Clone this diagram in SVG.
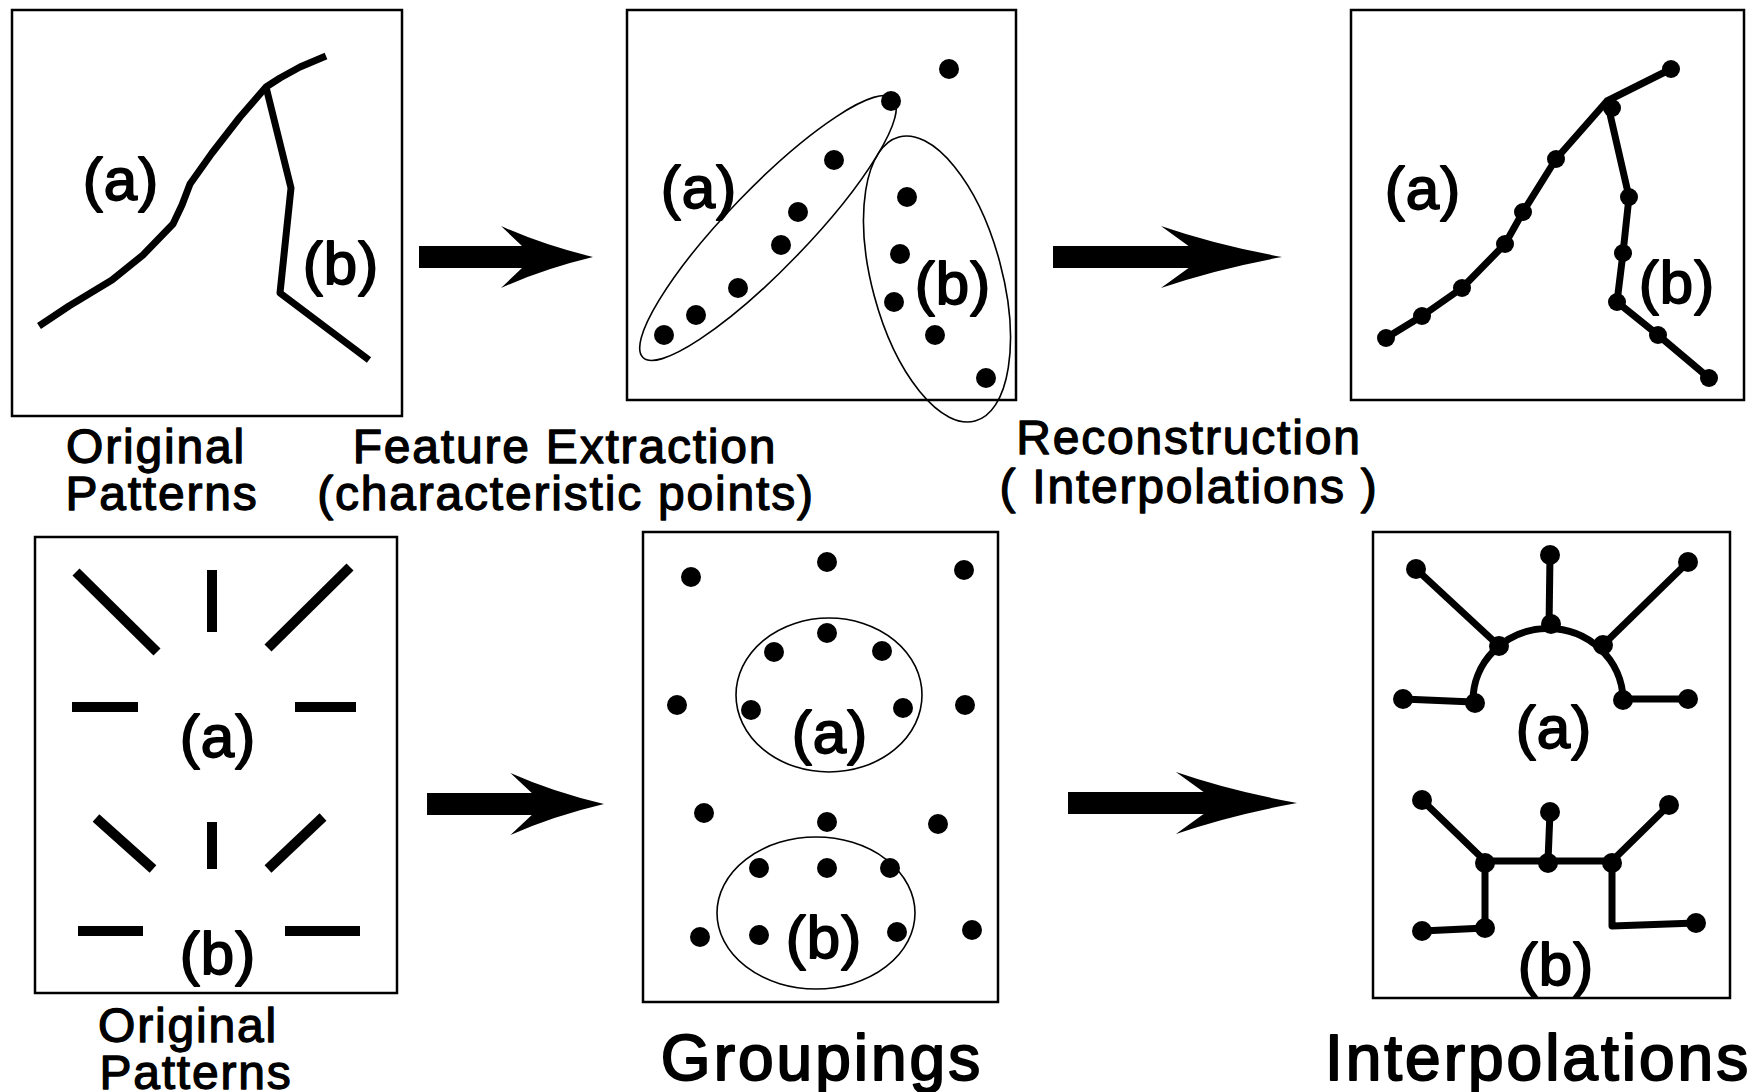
<svg xmlns="http://www.w3.org/2000/svg" width="1753" height="1092" viewBox="0 0 1753 1092">
  <style>
    .frame { fill: none; stroke: #000; stroke-width: 2.5; }
    .stroke { fill: none; stroke: #000; stroke-width: 7; stroke-linejoin: round; }
    .bar { fill: none; stroke: #000; stroke-width: 10; }
    .ring { fill: none; stroke: #000; stroke-width: 1.6; }
    .dot { fill: #000; }
    .arrow { fill: #000; }
    text { font-family: "Liberation Sans", Arial, sans-serif; text-anchor: middle; fill: #000; stroke: #000; stroke-linejoin: round; }
    .tag { font-size: 60px; stroke-width: 1.8; letter-spacing: 1px; }
    .cap { font-size: 48px; stroke-width: 1.3; letter-spacing: 1.8px; }
    .title { font-size: 64px; stroke-width: 2; letter-spacing: 3px; }
  </style>
  <defs>
    <path id="arrowhead" d="M-174,-11 L-71,-11 L-92,-31 Q-50,-12 0,0 Q-50,12 -92,31 L-71,11 L-174,11 Z"/>
  </defs>
  <rect width="1753" height="1092" fill="#fff"/>

  <!-- top row: original curves -->
  <g id="top-original">
    <rect class="frame" x="12" y="10" width="390" height="406"/>
    <polyline class="stroke" points="39,326 69,306 112,280 143,255 173,224 182,205 190,184 212,153 240,117 266,87 280,78 300,67 326,56"/>
    <polyline class="stroke" points="266,87 291,188 280,293 369,360"/>
    <text class="tag" x="121" y="200">(a)</text>
    <text class="tag" x="341" y="284">(b)</text>
  </g>
  <g id="top-original-caption">
    <text class="cap" x="156" y="463">Original</text>
    <text class="cap" x="162" y="510">Patterns</text>
  </g>

  <!-- top row: extracted points -->
  <g id="top-features">
    <rect class="frame" x="627" y="10" width="389" height="390"/>
    <ellipse class="ring" cx="768" cy="228" rx="180" ry="40" transform="rotate(-46 768 228)"/>
    <ellipse class="ring" cx="937" cy="279" rx="65" ry="147" transform="rotate(-15 937 279)"/>
    <g class="dot">
      <circle cx="949" cy="69" r="10"/>
      <circle cx="891" cy="101" r="10"/>
      <circle cx="834" cy="160" r="10"/>
      <circle cx="798" cy="212" r="10"/>
      <circle cx="781" cy="245" r="10"/>
      <circle cx="738" cy="288" r="10"/>
      <circle cx="696" cy="315" r="10"/>
      <circle cx="664" cy="335" r="10"/>
      <circle cx="907" cy="197" r="10"/>
      <circle cx="900" cy="254" r="10"/>
      <circle cx="894" cy="302" r="10"/>
      <circle cx="935" cy="335" r="10"/>
      <circle cx="986" cy="378" r="10"/>
    </g>
    <text class="tag" x="699" y="208">(a)</text>
    <text class="tag" x="953" y="304">(b)</text>
  </g>
  <g id="top-features-caption">
    <text class="cap" x="565" y="463">Feature Extraction</text>
    <text class="cap" x="566" y="510">(characteristic points)</text>
  </g>

  <!-- top row: reconstruction -->
  <g id="top-reconstruction">
    <rect class="frame" x="1351" y="10" width="393" height="390"/>
    <polyline class="stroke" stroke-width="6" points="1386,338 1422,316 1462,288 1505,244 1523,212 1556,159 1607,101 1671,69"/>
    <polyline class="stroke" stroke-width="6" points="1607,101 1629,197 1623,253 1617,302 1658,335 1709,378"/>
    <g class="dot">
      <circle cx="1386" cy="338" r="9"/>
      <circle cx="1422" cy="316" r="9"/>
      <circle cx="1462" cy="288" r="9"/>
      <circle cx="1505" cy="244" r="9"/>
      <circle cx="1523" cy="212" r="9"/>
      <circle cx="1556" cy="159" r="9"/>
      <circle cx="1612" cy="108" r="9"/>
      <circle cx="1671" cy="69" r="9"/>
      <circle cx="1629" cy="197" r="9"/>
      <circle cx="1623" cy="253" r="9"/>
      <circle cx="1617" cy="302" r="9"/>
      <circle cx="1658" cy="335" r="9"/>
      <circle cx="1709" cy="378" r="9"/>
    </g>
    <text class="tag" x="1423" y="209">(a)</text>
    <text class="tag" x="1677" y="303">(b)</text>
  </g>
  <g id="top-reconstruction-caption">
    <text class="cap" x="1189" y="454">Reconstruction</text>
    <text class="cap" x="1189" y="503">( Interpolations )</text>
  </g>

  <!-- bottom row: original segments -->
  <g id="bottom-original">
    <rect class="frame" x="35" y="537" width="362" height="456"/>
    <g class="bar">
      <line x1="76" y1="572" x2="157" y2="652"/>
      <line x1="212" y1="570" x2="212" y2="632"/>
      <line x1="350" y1="567" x2="268" y2="648"/>
      <line x1="72" y1="707" x2="138" y2="707"/>
      <line x1="295" y1="707" x2="356" y2="707"/>
      <line x1="96" y1="818" x2="153" y2="869"/>
      <line x1="212" y1="822" x2="212" y2="869"/>
      <line x1="323" y1="817" x2="268" y2="869"/>
      <line x1="78" y1="931" x2="143" y2="931"/>
      <line x1="285" y1="931" x2="360" y2="931"/>
    </g>
    <text class="tag" x="218" y="757">(a)</text>
    <text class="tag" x="218" y="974">(b)</text>
  </g>
  <g id="bottom-original-caption">
    <text class="cap" x="188" y="1042">Original</text>
    <text class="cap" x="196" y="1089">Patterns</text>
  </g>

  <!-- bottom row: groupings -->
  <g id="bottom-groupings">
    <rect class="frame" x="643" y="532" width="355" height="470"/>
    <ellipse class="ring" cx="829" cy="695" rx="93" ry="77"/>
    <ellipse class="ring" cx="816" cy="913" rx="99" ry="76"/>
    <g class="dot">
      <circle cx="691" cy="577" r="10"/>
      <circle cx="827" cy="562" r="10"/>
      <circle cx="964" cy="570" r="10"/>
      <circle cx="827" cy="633" r="10"/>
      <circle cx="774" cy="652" r="10"/>
      <circle cx="882" cy="651" r="10"/>
      <circle cx="751" cy="710" r="10"/>
      <circle cx="903" cy="708" r="10"/>
      <circle cx="677" cy="705" r="10"/>
      <circle cx="965" cy="705" r="10"/>
      <circle cx="704" cy="813" r="10"/>
      <circle cx="827" cy="822" r="10"/>
      <circle cx="938" cy="824" r="10"/>
      <circle cx="759" cy="868" r="10"/>
      <circle cx="827" cy="868" r="10"/>
      <circle cx="890" cy="868" r="10"/>
      <circle cx="759" cy="935" r="10"/>
      <circle cx="897" cy="932" r="10"/>
      <circle cx="700" cy="937" r="10"/>
      <circle cx="972" cy="930" r="10"/>
    </g>
    <text class="tag" x="830" y="753">(a)</text>
    <text class="tag" x="824" y="958">(b)</text>
  </g>
  <g id="bottom-groupings-caption">
    <text class="title" x="822" y="1080">Groupings</text>
  </g>

  <!-- bottom row: interpolations -->
  <g id="bottom-interpolations">
    <rect class="frame" x="1373" y="532" width="357" height="466"/>
    <path class="stroke" stroke-width="8" d="M1473,702 A75,72 0 0 1 1623,699"/>
    <polyline class="stroke" stroke-width="8" points="1403,699 1473,702"/>
    <polyline class="stroke" stroke-width="8" points="1623,699 1688,699"/>
    <polyline class="stroke" stroke-width="8" points="1416,569 1499,646"/>
    <polyline class="stroke" stroke-width="8" points="1550,555 1549,628"/>
    <polyline class="stroke" stroke-width="8" points="1688,562 1603,645"/>
    <polyline class="stroke" stroke-width="8" points="1422,800 1485,861 1612,861 1669,805"/>
    <polyline class="stroke" stroke-width="8" points="1550,812 1548,861"/>
    <polyline class="stroke" stroke-width="8" points="1422,931 1485,928 1485,861"/>
    <polyline class="stroke" stroke-width="8" points="1696,923 1612,926 1612,861"/>
    <g class="dot">
      <circle cx="1416" cy="569" r="10"/>
      <circle cx="1550" cy="555" r="10"/>
      <circle cx="1688" cy="562" r="10"/>
      <circle cx="1403" cy="699" r="10"/>
      <circle cx="1688" cy="699" r="10"/>
      <circle cx="1475" cy="703" r="10"/>
      <circle cx="1499" cy="646" r="10"/>
      <circle cx="1551" cy="624" r="10"/>
      <circle cx="1603" cy="645" r="10"/>
      <circle cx="1623" cy="700" r="10"/>
      <circle cx="1422" cy="800" r="10"/>
      <circle cx="1550" cy="812" r="10"/>
      <circle cx="1669" cy="805" r="10"/>
      <circle cx="1485" cy="863" r="10"/>
      <circle cx="1548" cy="863" r="10"/>
      <circle cx="1612" cy="863" r="10"/>
      <circle cx="1422" cy="931" r="10"/>
      <circle cx="1485" cy="928" r="10"/>
      <circle cx="1696" cy="923" r="10"/>
    </g>
    <text class="tag" x="1554" y="748">(a)</text>
    <text class="tag" x="1556" y="985">(b)</text>
  </g>
  <g id="bottom-interpolations-caption">
    <text class="title" x="1538" y="1080">Interpolations</text>
  </g>

  <!-- flow arrows between stages -->
  <g id="connectors" class="arrow">
    <use href="#arrowhead" transform="translate(593 257)"/>
    <use href="#arrowhead" transform="translate(1282 257) scale(1.316 1)"/>
    <use href="#arrowhead" transform="translate(604 804) scale(1.017 1)"/>
    <use href="#arrowhead" transform="translate(1297 803) scale(1.316 1)"/>
  </g>
</svg>
